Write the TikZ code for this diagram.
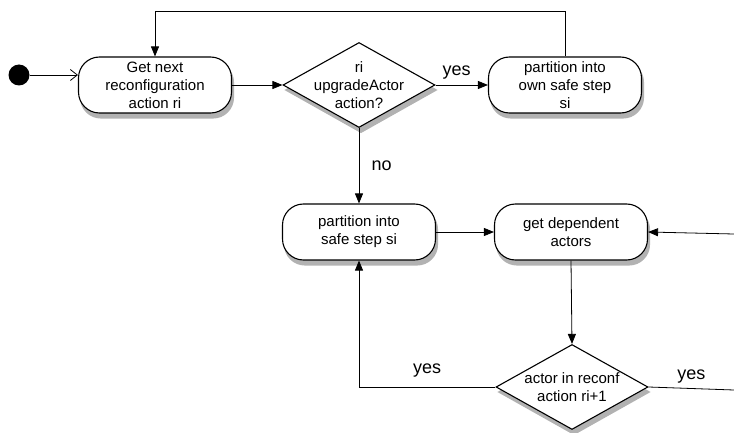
\documentclass[tikz,border=0pt]{standalone}
\usepackage{fontspec}
\setmainfont{Liberation Sans}
\usetikzlibrary{shapes.geometric, arrows.meta, backgrounds}

\tikzset{
    activity/.style={draw, line width=1.1pt, fill=white, rounded corners=21pt,
        minimum width=153pt, minimum height=56pt, align=center,
        font=\fontsize{15}{18}\selectfont},
    decision/.style={draw, line width=1.1pt, fill=white, diamond,
        minimum width=152pt, minimum height=85pt, inner sep=0pt},
    shadowfill/.style={fill=black!30},
    flow/.style={line width=0.8pt, -{Triangle[length=10pt, width=8pt]}},
    guard/.style={font=\fontsize{18}{20}\selectfont},
    dtext/.style={align=center, font=\fontsize{15}{18}\selectfont},
}

\begin{document}
\begin{tikzpicture}[x=1pt, y=-1pt]
    \useasboundingbox (0,0) rectangle (734,433);

    % Start point and first action
    \node[circle, fill=black, minimum size=21pt, inner sep=0pt] (start) at (19,75) {};
    \node[activity] (next) at (155,85) {Get next\\reconfiguration\\action ri};

    % First decision
    \node[decision] (isup) at (359,85) {};
    \node[dtext] (isuptext) at (isup) {ri\\upgradeActor\\action?};
    \node[activity] (own) at (565,85) {partition into\\own safe step\\si};

    % Second row
    \node[activity] (part) at (359,232) {partition into\\safe step si};
    \node[activity] (dep) at (571,232) {get dependent\\actors};

    % Second decision
    \node[decision] (inre) at (572,387) {};
    \node[dtext] (inretext) at (inre) {actor in reconf\\action ri+1};

    % Shadows behind the shapes
    \begin{pgfonlayer}{background}
        \foreach \n in {next,own,part,dep}
            \fill[shadowfill, rounded corners=21pt] ([shift={(2,5)}]\n.south west) rectangle ([shift={(2,5)}]\n.north east);
        \foreach \n in {isup,inre}
            \fill[shadowfill] ([shift={(2,5)}]\n.north) -- ([shift={(2,5)}]\n.east) -- ([shift={(2,5)}]\n.south) -- ([shift={(2,5)}]\n.west) -- cycle;
    \end{pgfonlayer}

    % Loose ends on the right
    \coordinate (fromright) at (734,234);
    \coordinate (toright) at (734,390);

    % Connectors
    \draw[line width=0.8pt, -{Straight Barb[length=7pt, width=11pt]}] (start) -- (start -| next.west);
    \draw[flow] (next) -- (isup);
    \draw[flow] (isup) -- (own) node[guard, pos=0.4, above=2pt] {yes};
    \draw[flow] (own.north) -- ++(0,-45) -| (next.north);
    \draw[flow] (isup.south) -- (part.north) node[guard, pos=0.5, right=9pt] {no};
    \draw[flow] (part) -- (dep);
    \draw[flow] (fromright) -- (dep.east);
    \draw[flow] (dep.south) -- (inre.north);
    \draw[flow] (inre.west) -| (part.south) node[guard, pos=0.25, above=6pt] {yes};
    \draw[line width=0.8pt] (inre.east) -- (toright) node[guard, pos=0.5, above=2pt] {yes};
\end{tikzpicture}
\end{document}
